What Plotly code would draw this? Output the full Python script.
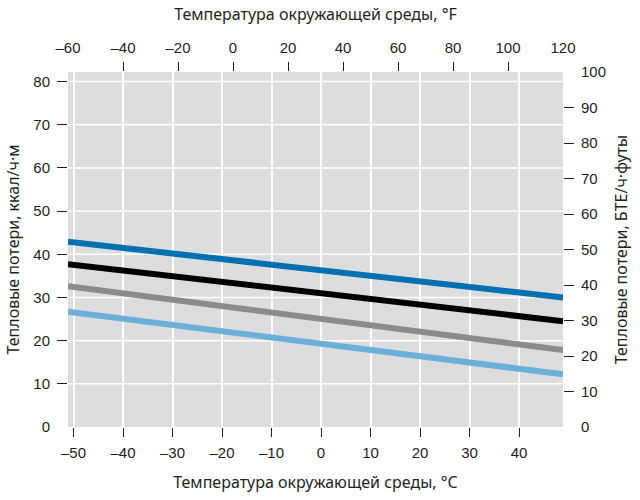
import plotly.graph_objects as go

# Ambient temperature span of the curves, °F (converted to °C for the bottom axis)
temps_f = [-60, 120]
temps_c = [(f - 32) * 5 / 9 for f in temps_f]

# Heat loss, kcal/h·m, at both ends of the temperature span
loss_blue = [42.9, 30.0]
loss_black = [37.7, 24.5]
loss_gray = [32.6, 17.8]
loss_light = [26.7, 12.2]

series = [
    ("blue", loss_blue, "#0070b0"),
    ("black", loss_black, "#000000"),
    ("gray", loss_gray, "#8a8b8d"),
    ("light", loss_light, "#6cafd9"),
]

# Tick positions
c_ticks = [-50, -40, -30, -20, -10, 0, 10, 20, 30, 40]
f_ticks = [-60, -40, -20, 0, 20, 40, 60, 80, 100, 120]
kcal_ticks = [0, 10, 20, 30, 40, 50, 60, 70, 80]
btu_ticks = [0, 10, 20, 30, 40, 50, 60, 70, 80, 90, 100]

kcal_top = 82.2
btu_top = 100

tick_font = dict(family="Liberation Sans, Arial, sans-serif", size=15, color="#231f20")
title_font = dict(family="Noto Sans, Open Sans, sans-serif", size=16, color="#231f20")
tick_color = "#231f20"
grid_color = "white"
transparent = "rgba(0,0,0,0)"


def minus(vals):
    return [str(v).replace("-", "\u2013") for v in vals]


def inner(vals, lo, hi):
    return [v for v in vals if lo < v < hi]


def edge(vals, lo, hi):
    return [v for v in vals if v <= lo or v >= hi]


c_lo, c_hi = temps_c
f_lo, f_hi = temps_f

fig = go.Figure()
for name, vals, color in series:
    fig.add_trace(go.Scatter(
        x=temps_c, y=vals, mode="lines", name=name,
        line=dict(color=color, width=6), showlegend=False, hoverinfo="skip",
    ))

# empty traces so every overlay axis gets drawn
for xa, ya in [("x2", "y"), ("x3", "y"), ("x", "y2"), ("x", "y3"), ("x", "y4")]:
    fig.add_trace(go.Scatter(x=[None], y=[None], xaxis=xa, yaxis=ya,
                             showlegend=False, hoverinfo="skip"))

# horizontal grid at the kcal ticks, behind the curves
for v in inner(kcal_ticks, 0, kcal_top):
    fig.add_hline(y=v, line=dict(color=grid_color, width=1.5), layer="below")

common = dict(zeroline=False, showline=False, tickfont=tick_font, tickwidth=1.4)

f_in = inner(f_ticks, f_lo, f_hi)
f_edge = edge(f_ticks, f_lo, f_hi)
k_in = inner(kcal_ticks, 0, kcal_top)
k_edge = edge(kcal_ticks, 0, kcal_top)
b_in = inner(btu_ticks, 0, btu_top)
b_edge = edge(btu_ticks, 0, btu_top)

fig.update_layout(
    width=640, height=500,
    margin=dict(l=68, r=74, t=72, b=62),
    paper_bgcolor="white",
    plot_bgcolor="#dcdddf",
    xaxis=dict(
        range=[c_lo, c_hi], tickmode="array", tickvals=c_ticks, ticktext=minus(c_ticks),
        ticks="outside", ticklen=9, tickcolor=tick_color, ticklabelstandoff=3,
        showgrid=True, gridcolor=grid_color, gridwidth=1.5,
        title=dict(text="Температура окружающей среды, °C", font=title_font, standoff=16),
        **common,
    ),
    xaxis2=dict(
        overlaying="x", side="top", anchor="y", range=[f_lo, f_hi],
        tickmode="array", tickvals=f_in, ticktext=minus(f_in),
        ticks="outside", ticklen=9, tickcolor=tick_color, ticklabelstandoff=3,
        showgrid=False,
        title=dict(text="Температура окружающей среды, °F", font=title_font, standoff=14),
        **common,
    ),
    xaxis3=dict(
        overlaying="x", side="top", anchor="y", range=[f_lo, f_hi],
        tickmode="array", tickvals=f_edge, ticktext=minus(f_edge),
        ticks="outside", ticklen=9, tickcolor=transparent, ticklabelstandoff=3,
        showgrid=False, **common,
    ),
    yaxis=dict(
        range=[0, kcal_top], tickmode="array", tickvals=k_in,
        ticks="outside", ticklen=10, tickcolor=tick_color, ticklabelstandoff=4,
        showgrid=False,
        title=dict(text="Тепловые потери, ккал/ч·м", font=title_font, standoff=9),
        **common,
    ),
    yaxis3=dict(
        overlaying="y", side="left", anchor="x", range=[0, kcal_top],
        tickmode="array", tickvals=k_edge,
        ticks="outside", ticklen=10, tickcolor=transparent, ticklabelstandoff=4,
        showgrid=False, **common,
    ),
    yaxis2=dict(
        overlaying="y", side="right", anchor="x", range=[0, btu_top],
        tickmode="array", tickvals=b_in,
        ticks="outside", ticklen=10, tickcolor=tick_color, ticklabelstandoff=4,
        showgrid=False,
        title=dict(text="Тепловые потери, БТЕ/ч·футы", font=title_font, standoff=19),
        **common,
    ),
    yaxis4=dict(
        overlaying="y", side="right", anchor="x", range=[0, btu_top],
        tickmode="array", tickvals=b_edge,
        ticks="outside", ticklen=10, tickcolor=transparent, ticklabelstandoff=4,
        showgrid=False, **common,
    ),
)

fig.write_html("out.html")
